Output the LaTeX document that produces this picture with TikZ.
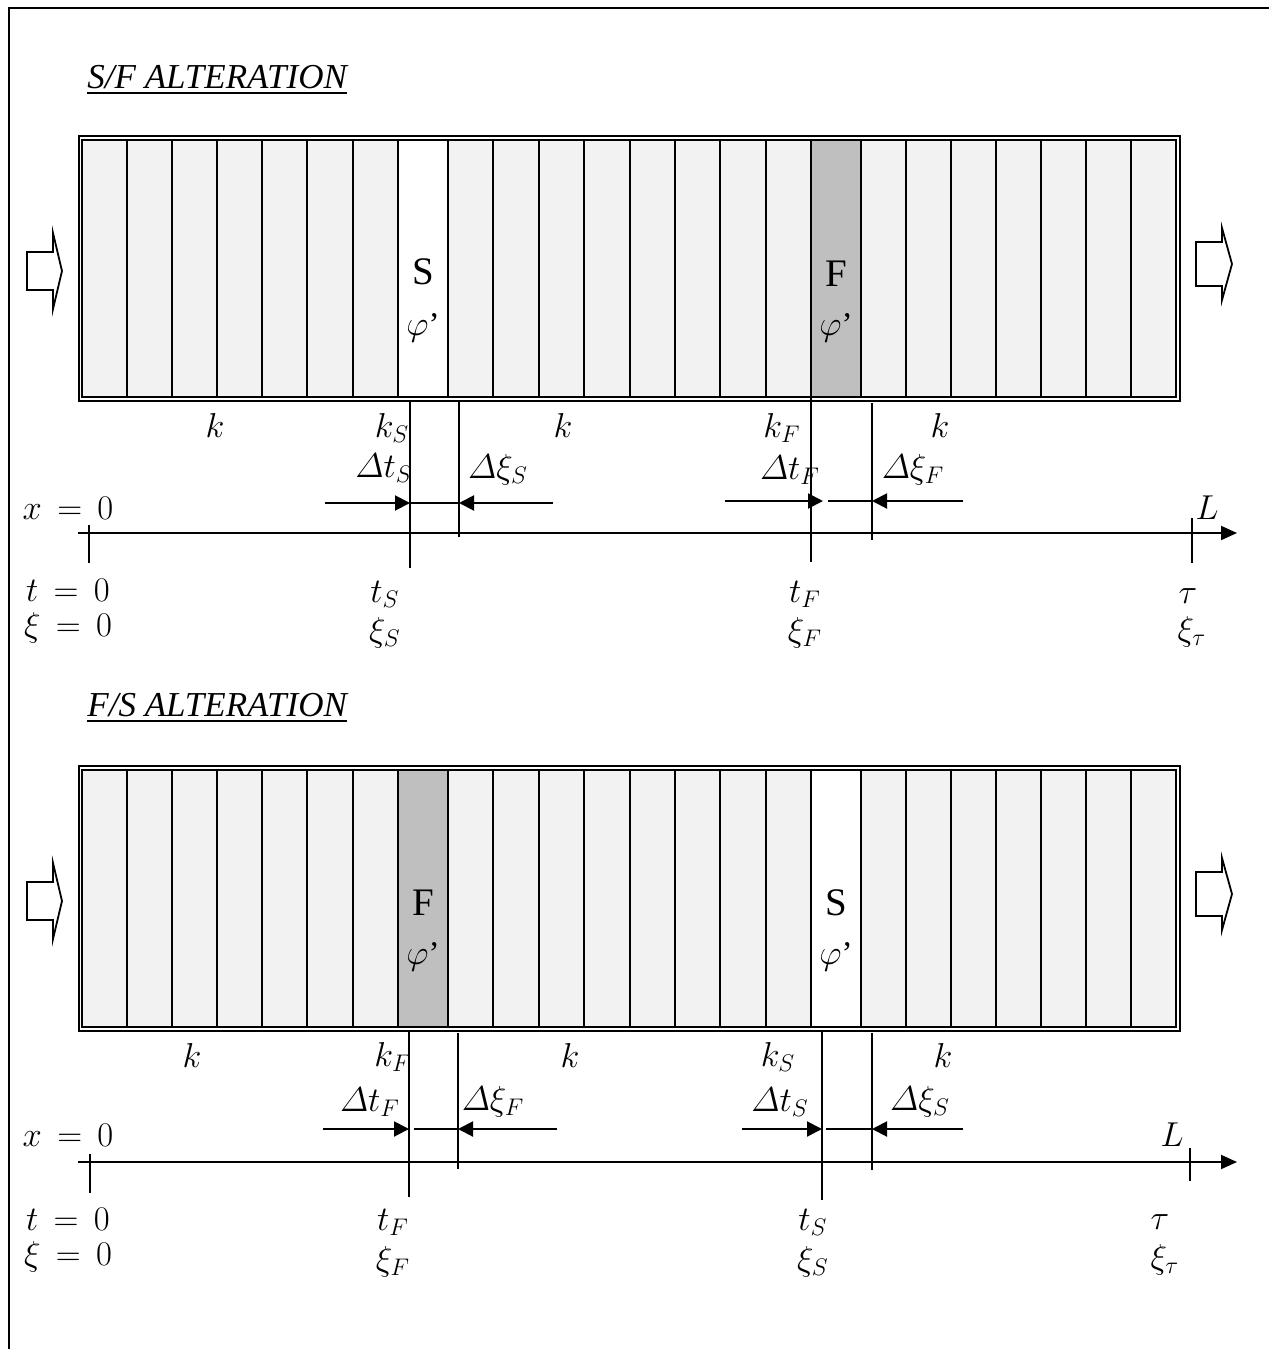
\documentclass[tikz,border=0pt]{standalone}
\usepackage{amsmath}
\usepackage{fontspec}
\setmainfont{Liberation Serif}
\usetikzlibrary{arrows.meta}
\definecolor{cellgray}{HTML}{F2F2F2}
\definecolor{fgray}{HTML}{BFBFBF}
\begin{document}
\begin{tikzpicture}[x=0.5pt,y=-0.5pt,
  lbl/.style={inner sep=0pt,font=\fontsize{16.5}{19}\selectfont},
  cell/.style={inner sep=0pt,font=\fontsize{19.5}{22}\selectfont},
  ttl/.style={inner sep=0pt,anchor=base west,font=\fontsize{17.5}{20}\selectfont\itshape},
  ln/.style={line width=1pt},
  thin/.style={line width=0.6pt},
  dimarrow/.style={line width=1pt,-{Triangle[length=7.5pt,width=7.5pt]}},
  axarrow/.style={line width=1pt,-{Triangle[length=8pt,width=7pt]}},
  blockarrow/.style={line width=0.9pt,fill=white,line join=miter}]
\useasboundingbox (0,0) rectangle (1269,1349);
% outer frame (left and top edges)
\coordinate (fb) at (9,1349);
\coordinate (fc) at (9,8);
\coordinate (fr) at (1269,8);
\draw[line width=1.2pt] (fb) -- (fc) -- (fr);

% ================= TOP PANEL =================
\node[ttl] (t1) at (87,88) {\underline{S/F ALTERATION}};
\fill[cellgray] (82,140) rectangle (1176,397);
\fill[white] (398,140) rectangle (448,397);
\fill[fgray] (811,140) rectangle (861,397);
\foreach \x in {127,172,217,262,307,353,398,448,493,539,584,630,675,720,766,811,861,906,951,996,1041,1086,1131}
  \draw[ln] (\x,140) -- (\x,397);
\draw[ln] (79,136) rectangle (1180,401);
\draw[ln] (82,140) rectangle (1176,397);
\node[cell] (s1) at (423,272) {S};
\node[lbl] (s1p) at (423,328) {$\varphi$’};
\node[cell] (f1) at (836,274) {F};
\node[lbl] (f1p) at (836,328) {$\varphi$’};
% block arrows
\draw[blockarrow] (27,252) -- (53,252) -- (53,233) -- (62,271) -- (53,309) -- (53,290) -- (27,290) -- cycle;
\draw[blockarrow] (1196,242) -- (1222,242) -- (1222,228) -- (1232,264) -- (1222,300) -- (1222,286) -- (1196,286) -- cycle;
% labels under box
\node[lbl] (k1a) at (215,425) {$k$};
\node[lbl] (k1s) at (392,428) {$k_S$};
\node[lbl] (k1b) at (563,425) {$k$};
\node[lbl] (k1f) at (782,428) {$k_F$};
\node[lbl] (k1c) at (940,425) {$k$};
\node[lbl] (dt1s) at (384,468) {$\varDelta t_S$};
\node[lbl] (dx1s) at (498,470) {$\varDelta\xi_S$};
\node[lbl] (dt1f) at (790,470) {$\varDelta t_F$};
\node[lbl] (dx1f) at (913,470) {$\varDelta\xi_F$};
\node[lbl] (x1) at (68,508) {$x\,=\,0$};
\node[lbl] (t1z) at (68,590) {$t\,=\,0$};
\node[lbl] (xi1z) at (68,628) {$\xi\,=\,0$};
\node[lbl] (ts1) at (385,594) {$t_S$};
\node[lbl] (xs1) at (385,633) {$\xi_S$};
\node[lbl] (tf1) at (805,594) {$t_F$};
\node[lbl] (xf1) at (805,633) {$\xi_F$};
\node[lbl] (L1) at (1207,508) {$L$};
\node[lbl] (tau1) at (1188,596) {$\tau$};
\node[lbl] (xt1) at (1192,632) {$\xi_\tau$};
% axis
\coordinate (a1s) at (78,533);
\coordinate (a1e) at (1237,533);
\draw[axarrow] (a1s) -- (a1e);
\draw[ln] (89,525) -- (89,563);
\draw[ln] (1192,518) -- (1192,563);
% S markers
\coordinate (m1a) at (410,503);
\coordinate (m1b) at (459,503);
\draw[ln] (410,402) -- (410,568);
\draw[ln] (459,402) -- (459,537);
\draw[dimarrow] (325,503) -- (m1a);
\draw[thin] (m1a) -- (m1b);
\draw[dimarrow] (553,503) -- (m1b);
% F markers
\coordinate (n1a) at (823,501);
\coordinate (n1b) at (872,501);
\draw[ln] (811,393) -- (811,562);
\draw[ln] (872,403) -- (872,540);
\draw[dimarrow] (725,501) -- (n1a);
\draw[thin] (828,501) -- (n1b);
\draw[dimarrow] (963,501) -- (n1b);

% ================= BOTTOM PANEL =================
\node[ttl] (t2) at (87,716) {\underline{F/S ALTERATION}};
\fill[cellgray] (82,770) rectangle (1176,1027);
\fill[fgray] (398,770) rectangle (448,1027);
\fill[white] (811,770) rectangle (861,1027);
\foreach \x in {127,172,217,262,307,353,398,448,493,539,584,630,675,720,766,811,861,906,951,996,1041,1086,1131}
  \draw[ln] (\x,770) -- (\x,1027);
\draw[ln] (79,766) rectangle (1180,1031);
\draw[ln] (82,770) rectangle (1176,1027);
\node[cell] (f2) at (423,903) {F};
\node[lbl] (f2p) at (423,957) {$\varphi$’};
\node[cell] (s2) at (836,903) {S};
\node[lbl] (s2p) at (836,957) {$\varphi$’};
\draw[blockarrow] (27,882) -- (53,882) -- (53,863) -- (62,901) -- (53,939) -- (53,920) -- (27,920) -- cycle;
\draw[blockarrow] (1196,872) -- (1222,872) -- (1222,858) -- (1232,894) -- (1222,930) -- (1222,916) -- (1196,916) -- cycle;
\node[lbl] (k2a) at (192,1055) {$k$};
\node[lbl] (k2f) at (393,1057) {$k_F$};
\node[lbl] (k2b) at (570,1055) {$k$};
\node[lbl] (k2s) at (778,1057) {$k_S$};
\node[lbl] (k2c) at (943,1055) {$k$};
\node[lbl] (dt2f) at (370,1102) {$\varDelta t_F$};
\node[lbl] (dx2f) at (493,1102) {$\varDelta\xi_F$};
\node[lbl] (dt2s) at (780,1102) {$\varDelta t_S$};
\node[lbl] (dx2s) at (920,1102) {$\varDelta\xi_S$};
\node[lbl] (x2) at (68,1135) {$x\,=\,0$};
\node[lbl] (t2z) at (68,1219) {$t\,=\,0$};
\node[lbl] (xi2z) at (68,1257) {$\xi\,=\,0$};
\node[lbl] (tf2) at (393,1222) {$t_F$};
\node[lbl] (xf2) at (393,1262) {$\xi_F$};
\node[lbl] (ts2) at (813,1222) {$t_S$};
\node[lbl] (xs2) at (813,1262) {$\xi_S$};
\node[lbl] (L2) at (1172,1135) {$L$};
\node[lbl] (tau2) at (1160,1222) {$\tau$};
\node[lbl] (xt2) at (1165,1260) {$\xi_\tau$};
\coordinate (a2s) at (78,1162);
\coordinate (a2e) at (1237,1162);
\draw[axarrow] (a2s) -- (a2e);
\draw[ln] (90,1154) -- (90,1193);
\draw[ln] (1190,1148) -- (1190,1181);
% F markers
\coordinate (m2a) at (409,1129);
\coordinate (m2b) at (458,1129);
\draw[ln] (409,1031) -- (409,1197);
\draw[ln] (458,1033) -- (458,1169);
\draw[dimarrow] (323,1129) -- (m2a);
\draw[thin] (414,1129) -- (m2b);
\draw[dimarrow] (557,1129) -- (m2b);
% S markers
\coordinate (n2a) at (822,1129);
\coordinate (n2b) at (872,1129);
\draw[ln] (822,1031) -- (822,1200);
\draw[ln] (872,1033) -- (872,1170);
\draw[dimarrow] (742,1129) -- (n2a);
\draw[thin] (826,1129) -- (n2b);
\draw[dimarrow] (963,1129) -- (n2b);
\end{tikzpicture}
\end{document}
